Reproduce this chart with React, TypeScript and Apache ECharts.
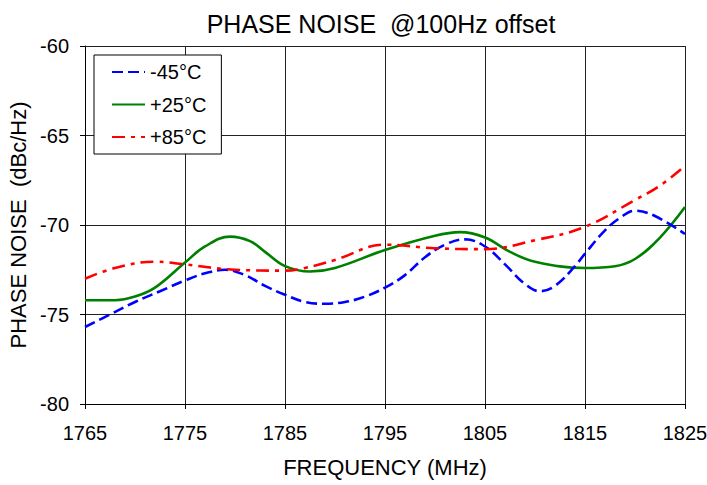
import React, { useEffect, useRef } from "react";
import * as echarts from "echarts";

const freqTicks = [1765, 1775, 1785, 1795, 1805, 1815, 1825];

const blueX = [1765, 1767.5, 1770, 1772.5, 1775, 1777, 1779, 1781, 1783, 1785, 1787, 1789, 1791, 1793, 1795, 1797, 1799, 1801, 1803, 1805, 1807, 1809, 1810.5, 1812, 1814, 1815, 1817, 1818.5, 1820, 1822, 1825];
const blueY = [-75.7, -75.0, -74.3, -73.7, -73.1, -72.7, -72.5, -72.8, -73.4, -73.9, -74.3, -74.4, -74.3, -74.0, -73.5, -72.8, -71.8, -71.1, -70.8, -71.2, -72.2, -73.3, -73.7, -73.4, -72.3, -71.6, -70.3, -69.6, -69.2, -69.5, -70.5];

const greenX = [1765, 1768, 1770, 1772, 1775, 1777, 1779.5, 1781.5, 1783, 1785, 1787.5, 1790, 1795, 1800, 1802.5, 1805, 1807.5, 1810, 1815, 1818, 1820, 1822.5, 1825];
const greenY = [-74.2, -74.2, -74.0, -73.5, -72.1, -71.2, -70.65, -70.9, -71.5, -72.3, -72.6, -72.4, -71.4, -70.6, -70.4, -70.7, -71.5, -72.05, -72.4, -72.3, -71.9, -70.7, -69.0];

const redX = [1765, 1768, 1772, 1775, 1780, 1785, 1787, 1790, 1795, 1800, 1805, 1810, 1815, 1820, 1822.5, 1825];
const redY = [-73.0, -72.4, -72.05, -72.2, -72.5, -72.55, -72.4, -71.95, -71.1, -71.3, -71.35, -70.85, -70.1, -68.6, -67.8, -66.7];

const names = ["-45°C", "+25°C", "+85°C"];

const zip = (xs: number[], ys: number[]) => xs.map((x, i) => [x, ys[i]]);

const FONT = "Liberation Sans";

export default function App() {
  const ref = useRef<HTMLDivElement>(null);
  useEffect(() => {
    if (!ref.current) return;
    const chart = echarts.init(ref.current, undefined, { renderer: "svg" });
    chart.setOption({
      animation: false,
      backgroundColor: "#fff",
      title: {
        text: "PHASE NOISE  @100Hz offset",
        left: 376,
        top: 6,
        textAlign: "center",
        textStyle: { fontFamily: FONT, fontSize: 25, fontWeight: "normal", color: "#000" },
      },
      legend: {
        orient: "vertical",
        left: 94,
        top: 55,
        itemWidth: 33,
        itemHeight: 10,
        itemGap: 12.5,
        padding: [7, 15, 7, 17],
        backgroundColor: "#fff",
        borderColor: "#000",
        borderWidth: 1,
        itemStyle: { opacity: 0 },
        textStyle: { fontFamily: FONT, fontSize: 20, color: "#000" },
        data: names,
      },
      grid: { left: 85, right: 22, top: 46, bottom: 81, containLabel: false, outerBoundsMode: "none" },
      xAxis: {
        type: "value",
        min: 1765,
        max: 1825,
        interval: 10,
        name: "FREQUENCY (MHz)",
        nameLocation: "middle",
        nameGap: 52,
        nameTextStyle: { fontFamily: FONT, fontSize: 22, color: "#000" },
        axisLine: { lineStyle: { color: "#000", width: 1 } },
        axisTick: { show: true, inside: false, length: 5, lineStyle: { color: "#000" } },
        axisLabel: {
          fontFamily: FONT,
          fontSize: 20,
          color: "#000",
          margin: 19,
          formatter: (v: number) => String(v),
        },
        splitLine: { show: true, lineStyle: { color: "#222", width: 1 } },
      },
      yAxis: {
        type: "value",
        min: -80,
        max: -60,
        interval: 5,
        name: "PHASE NOISE  (dBc/Hz)",
        nameLocation: "middle",
        nameGap: 54,
        nameTextStyle: { fontFamily: FONT, fontSize: 22, color: "#000" },
        axisLine: { show: true, lineStyle: { color: "#000", width: 1 } },
        axisTick: { show: true, inside: false, length: 5, lineStyle: { color: "#000" } },
        axisLabel: { fontFamily: FONT, fontSize: 20, color: "#000", margin: 16 },
        splitLine: { show: true, lineStyle: { color: "#222", width: 1 } },
      },
      series: [
        {
          name: names[0],
          type: "line",
          smooth: 0.4,
          symbol: "none",
          data: zip(blueX, blueY),
          lineStyle: { color: "#0000ff", width: 2.6, type: [11, 5] },
          itemStyle: { color: "#0000ff" },
          z: 3,
        },
        {
          name: names[1],
          type: "line",
          smooth: 0.4,
          symbol: "none",
          data: zip(greenX, greenY),
          lineStyle: { color: "#008000", width: 2.6, type: "solid" },
          itemStyle: { color: "#008000" },
          z: 2,
        },
        {
          name: names[2],
          type: "line",
          smooth: 0.4,
          symbol: "none",
          data: zip(redX, redY),
          lineStyle: { color: "#ff0000", width: 2.6, type: [13, 6, 4, 6] },
          itemStyle: { color: "#ff0000" },
          z: 4,
        },
      ],
    });
    return () => chart.dispose();
  }, []);
  return <div ref={ref} style={{ width: 707, height: 485, position: "absolute", left: 0, top: 0 }} />;
}
